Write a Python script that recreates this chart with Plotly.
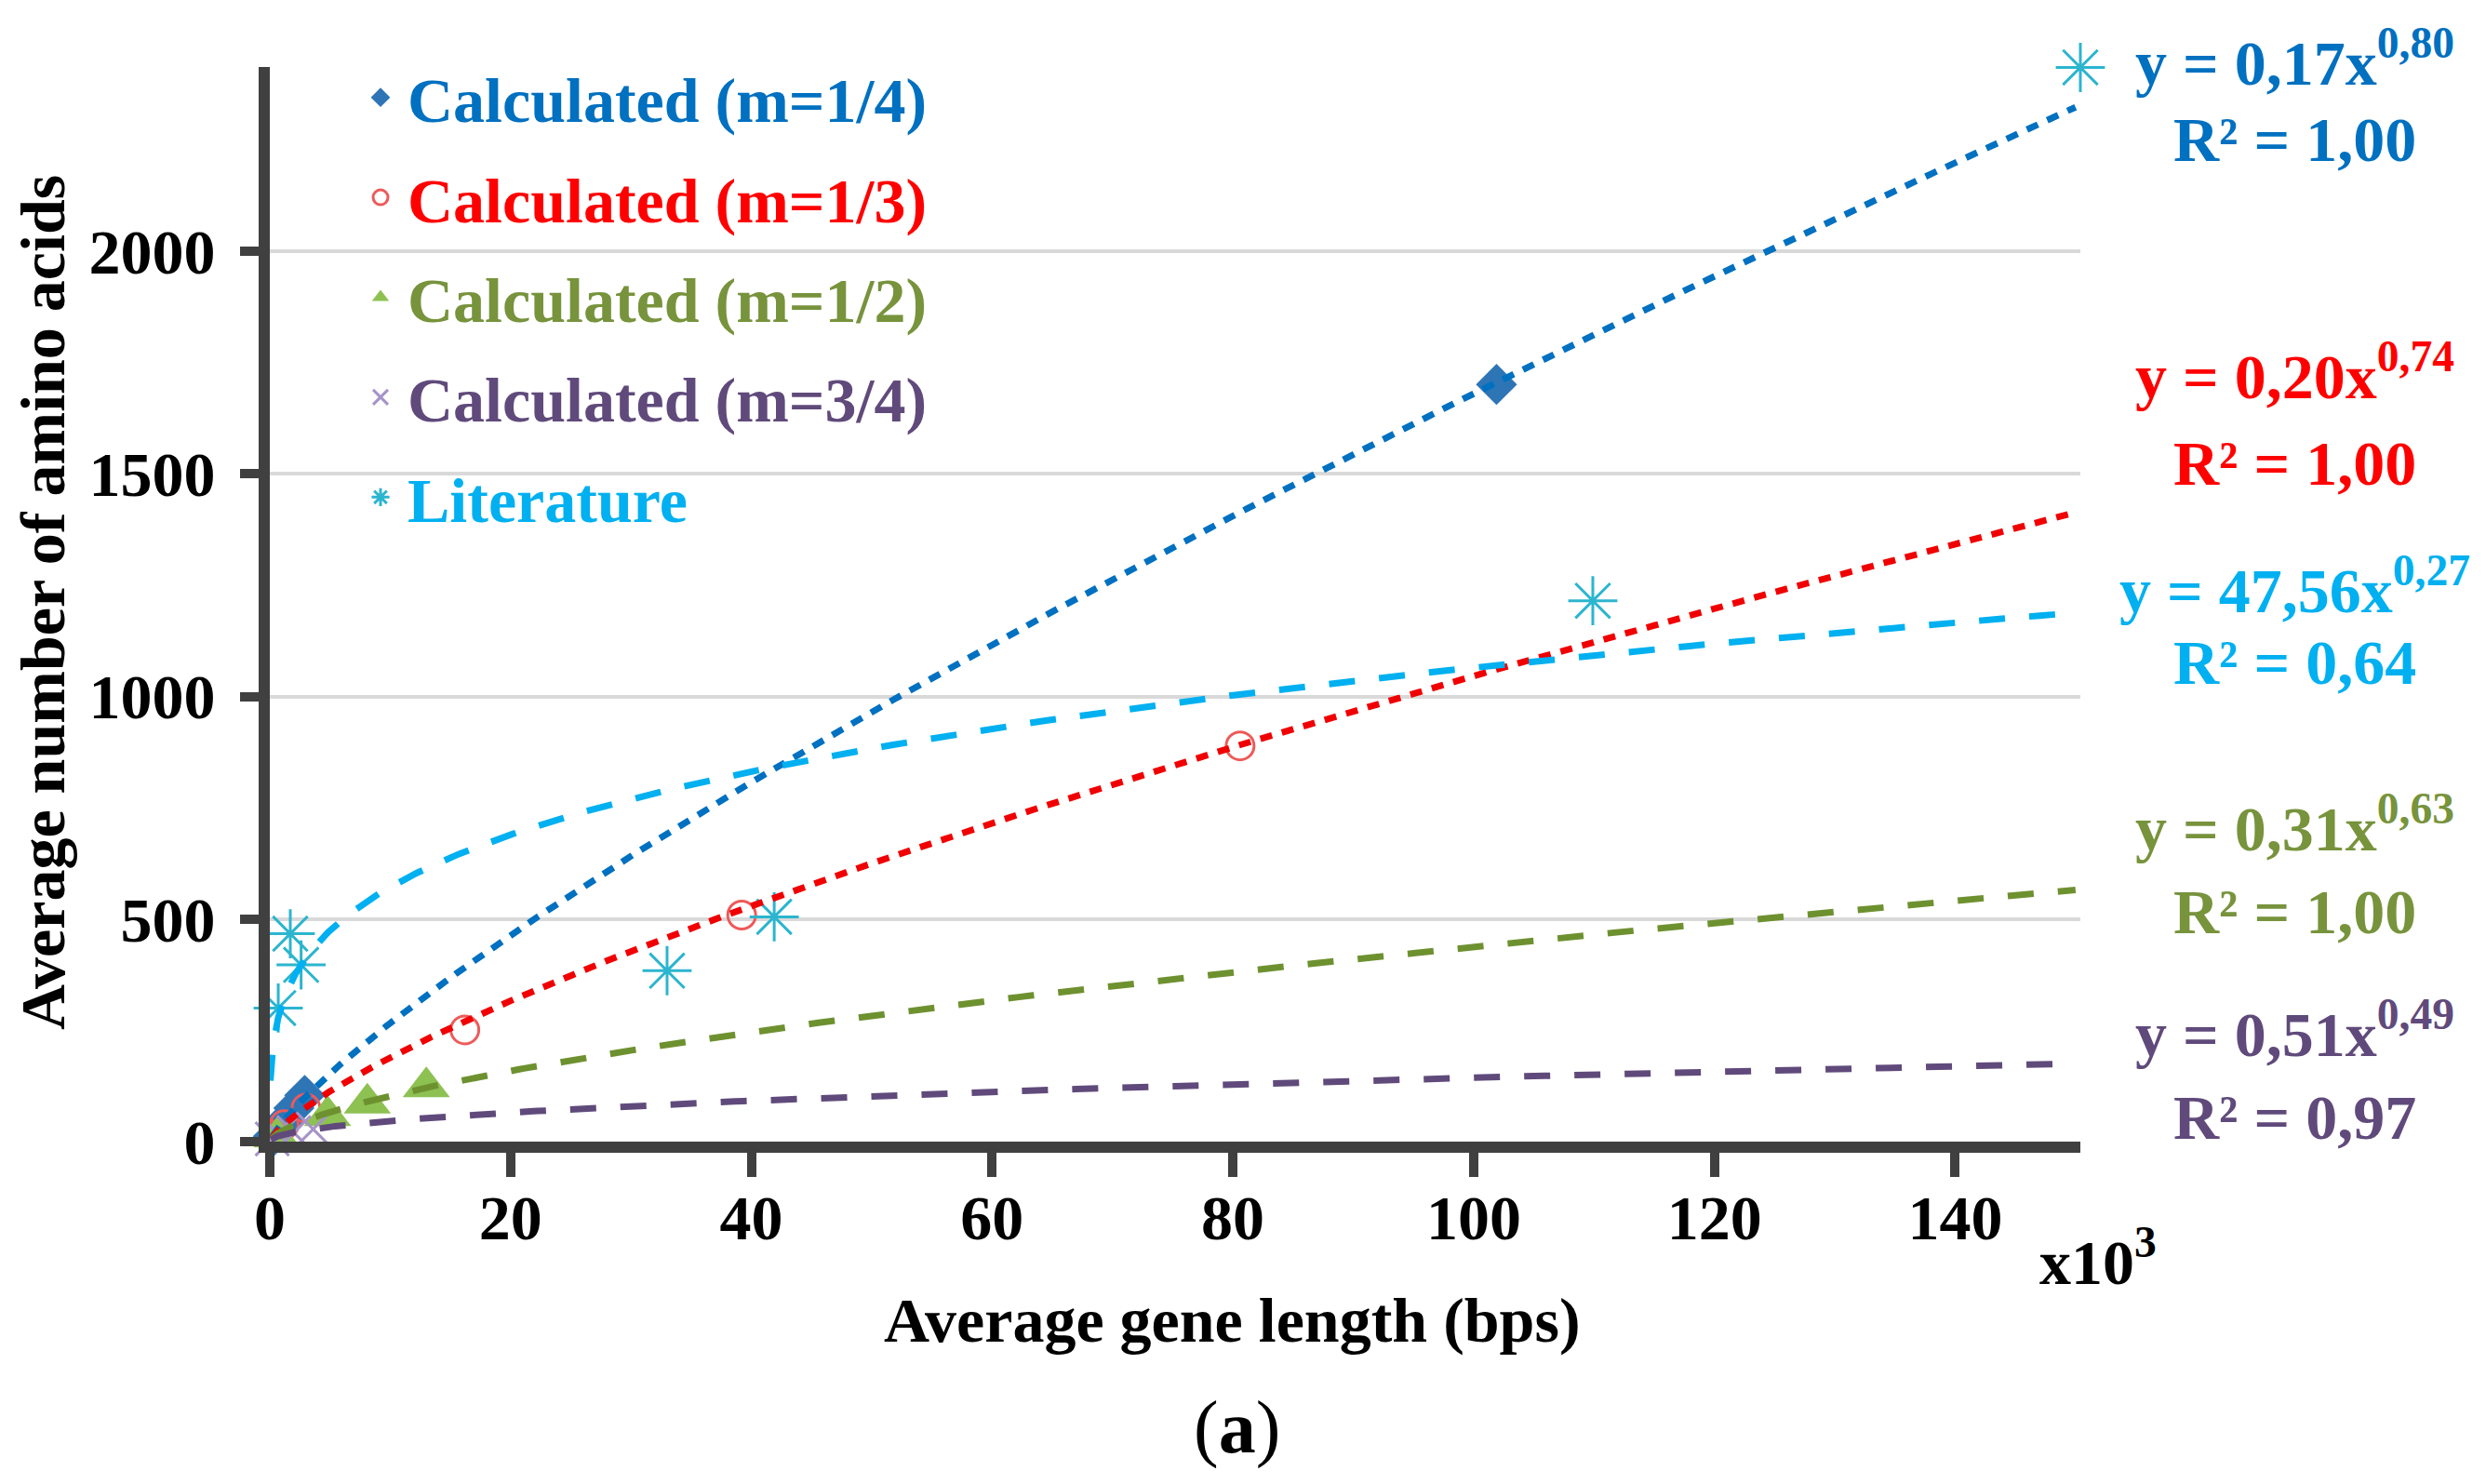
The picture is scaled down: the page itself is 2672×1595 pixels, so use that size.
import numpy as np
import plotly.graph_objects as go

# ---------------- data (x in thousands of bps) ----------------
series_names = ["Calculated (m=1/4)", "Calculated (m=1/3)", "Calculated (m=1/2)",
                "Calculated (m=3/4)", "Literature"]

calc_q_x = [0.3, 1.0, 2.0, 2.9, 101.9]
calc_q_y = [12, 40, 75, 104, 1701]

calc_t_x = [0.4, 1.2, 3.0, 16.2, 39.2, 80.6]
calc_t_y = [15, 38, 75, 251, 509, 889]

calc_h_x = [0.6, 4.8, 8.1, 13.0]
calc_h_y = [10, 58, 86, 123]

calc_tq_x = [0.2, 0.8, 2.0, 3.6]
calc_tq_y = [6, 14, 20, 28]

lit_x = [0.7, 1.7, 2.6, 33.0, 41.9, 109.9, 150.4]
lit_y = [300, 467, 397, 384, 505, 1215, 2413]

# power-law trendlines  y = a * x_bps ^ b
trend_a = [0.168, 0.2016, 0.31, 0.51, 47.56]
trend_b = [0.80, 0.743, 0.63, 0.49, 0.27]
trend_x_start = [0.2, 0.15, 0.1, 0.1, 0.05]
trend_x_end = [150.0, 150.0, 150.0, 150.0, 150.0]

eq_labels = ["y = 0,17x<sup>0,80</sup>", "y = 0,20x<sup>0,74</sup>", "y = 0,31x<sup>0,63</sup>",
             "y = 0,51x<sup>0,49</sup>", "y = 47,56x<sup>0,27</sup>"]
r2_labels = ["R² = 1,00", "R² = 1,00", "R² = 1,00", "R² = 0,97", "R² = 0,64"]

x_ticks = [0, 20, 40, 60, 80, 100, 120, 140]
y_ticks = [0, 500, 1000, 1500, 2000]

# ---------------- styles ----------------
text_colors = ["#0070C0", "#FF0000", "#77933C", "#604A7B", "#00B0F0"]
marker_colors = ["#2E75B6", "#EE5A5A", "#8DC152", "#A593C8", "#2CB5CF"]
trend_colors = ["#0070C0", "#F00000", "#6E9130", "#604A7B", "#00B0F0"]
trend_dash = ["13px,11px", "13px,11px", "28px,26px", "28px,26px", "28px,26px"]
symbols = ["diamond", "circle-open", "triangle-up", "x-thin-open", "asterisk-open"]
sizes = [34, 30, 44, 36, 44]

FONT = "Liberation Serif, Times New Roman, serif"
W, H = 2672, 1595
L, R, T, B = 290, 2672 - 2236, 72, 1595 - 1227

def px(xp):
    return (xp - L) / (W - L - R)

def py(yp):
    return (H - B - yp) / (H - T - B)

xs = [calc_q_x, calc_t_x, calc_h_x, calc_tq_x, lit_x]
ys = [calc_q_y, calc_t_y, calc_h_y, calc_tq_y, lit_y]

fig = go.Figure()

for i in range(5):
    mk = dict(symbol=symbols[i], size=sizes[i], color=marker_colors[i])
    if symbols[i].endswith("open"):
        mk["line"] = dict(width=3, color=marker_colors[i])
    else:
        mk["line"] = dict(width=0)
    fig.add_trace(go.Scatter(
        x=xs[i], y=ys[i], mode="markers", marker=mk,
        name=f'<span style="color:{text_colors[i]}">{series_names[i]}</span>',
        legendgroup=f"g{i}", cliponaxis=False, showlegend=True))

for i in range(5):
    tx = np.geomspace(trend_x_start[i], trend_x_end[i], 400)
    ty = trend_a[i] * (tx * 1000.0) ** trend_b[i]
    fig.add_trace(go.Scatter(
        x=tx, y=ty, mode="lines",
        line=dict(color=trend_colors[i], width=7, dash=trend_dash[i]),
        showlegend=False, hoverinfo="skip", cliponaxis=False))

# equation annotations (order in picture: blue, red, cyan, green, purple)
eq_pos = {0: (63, 150), 1: (400, 498), 4: (630, 712), 2: (886, 980), 3: (1107, 1201)}
annotations = []
for i, (y1, y2) in eq_pos.items():
    annotations.append(dict(x=px(2466), y=py(y1), xref="paper", yref="paper",
                            text=f"<b>{eq_labels[i]}</b>", showarrow=False,
                            xanchor="center", yanchor="middle",
                            font=dict(family=FONT, size=68, color=text_colors[i])))
    annotations.append(dict(x=px(2466), y=py(y2), xref="paper", yref="paper",
                            text=f"<b>{r2_labels[i]}</b>", showarrow=False,
                            xanchor="center", yanchor="middle",
                            font=dict(family=FONT, size=68, color=text_colors[i])))

annotations += [
    dict(x=px(1324), y=py(1419), xref="paper", yref="paper",
         text="<b>Average gene length (bps)</b>", showarrow=False,
         xanchor="center", yanchor="middle", font=dict(family=FONT, size=68, color="black")),
    dict(x=px(46), y=py(648), xref="paper", yref="paper", textangle=-90,
         text="<b>Average number of amino acids</b>", showarrow=False,
         xanchor="center", yanchor="middle", font=dict(family=FONT, size=68, color="black")),
    dict(x=px(2255), y=py(1352), xref="paper", yref="paper",
         text="<b>x10<sup>3</sup></b>", showarrow=False,
         xanchor="center", yanchor="middle", font=dict(family=FONT, size=68, color="black")),
    dict(x=px(1329), y=py(1534), xref="paper", yref="paper",
         text="(<b>a</b>)", showarrow=False,
         xanchor="center", yanchor="middle", font=dict(family=FONT, size=80, color="black")),
]

fig.update_layout(
    width=W, height=H,
    margin=dict(l=L, r=R, t=T, b=B),
    plot_bgcolor="white", paper_bgcolor="white",
    font=dict(family=FONT, size=68, color="black"),
    showlegend=True,
    legend=dict(x=px(380), y=py(54), xanchor="left", yanchor="top",
                bgcolor="rgba(0,0,0,0)", traceorder="grouped", tracegroupgap=16,
                itemwidth=48,
                font=dict(family=FONT, size=68, weight="bold"), itemsizing="trace"),
    annotations=annotations,
    xaxis=dict(range=[0, 150.4], tickvals=x_ticks, ticktext=[str(v) for v in x_ticks],
               showgrid=False, zeroline=False, showline=True, linecolor="#404040", linewidth=12,
               ticks="outside", ticklen=26, tickwidth=10, tickcolor="#404040",
               tickfont=dict(family=FONT, size=68, color="black", weight="bold"),
               ticklabelstandoff=-15),
    yaxis=dict(range=[0, 2414], tickvals=y_ticks, ticktext=[str(v) for v in y_ticks],
               showgrid=True, gridcolor="#D9D9D9", gridwidth=4, zeroline=False,
               showline=True, linecolor="#404040", linewidth=12,
               ticks="outside", ticklen=20, tickwidth=10, tickcolor="#404040",
               tickfont=dict(family=FONT, size=68, color="black", weight="bold"),
               ticklabelstandoff=13),
)

fig.write_html("out.html", config={"displayModeBar": False},
               post_script="document.body.style.margin='0';document.body.style.overflow='hidden';")
